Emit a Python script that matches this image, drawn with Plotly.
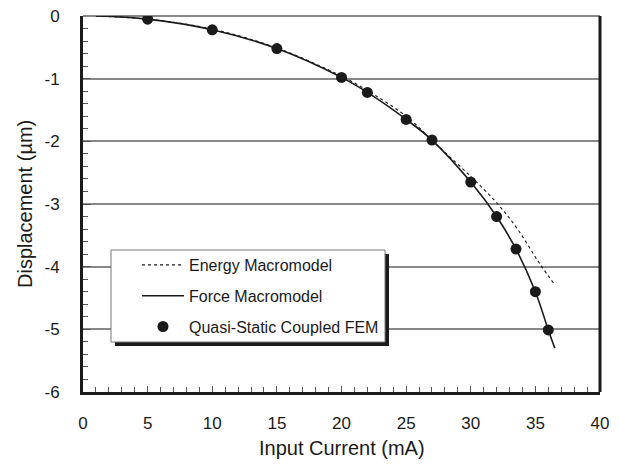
import plotly.graph_objects as go

# Data
fem_x = [5, 10, 15, 20, 22, 25, 27, 30, 32, 33.5, 35, 36]
fem_y = [-0.05, -0.22, -0.52, -0.98, -1.22, -1.65, -1.98, -2.65, -3.20, -3.72, -4.40, -5.01]

force_x = [1, 5, 10, 15, 20, 22, 25, 27, 30, 32, 33.5, 35, 36, 36.5]
force_y = [0.0, -0.05, -0.22, -0.52, -0.98, -1.22, -1.65, -1.98, -2.65, -3.20, -3.72, -4.40, -5.01, -5.30]

energy_x = [1, 5, 10, 15, 20, 22, 25, 27.6, 30, 32, 33.55, 35.36, 36.47]
energy_y = [0.0, -0.05, -0.21, -0.51, -0.96, -1.19, -1.60, -2.10, -2.56, -2.98, -3.38, -3.96, -4.28]

x_ticks = [0, 5, 10, 15, 20, 25, 30, 35, 40]
y_ticks = [0, -1, -2, -3, -4, -5, -6]

FONT = "Liberation Sans, Arial, sans-serif"
INK = "#1a1a1a"

fig = go.Figure()
fig.add_trace(go.Scatter(x=energy_x, y=energy_y, mode="lines", name="Energy Macromodel",
                         line=dict(color=INK, width=1.1, dash="dot", shape="spline"),
                         legendgroup="a"))
fig.add_trace(go.Scatter(x=force_x, y=force_y, mode="lines", name="Force Macromodel",
                         line=dict(color=INK, width=1.6, shape="spline"), legendgroup="b"))
fig.add_trace(go.Scatter(x=fem_x, y=fem_y, mode="markers", name="Quasi-Static Coupled FEM",
                         marker=dict(color=INK, size=11), legendgroup="c"))

OFF = 8  # page body margin
PL, PT, PR, PB = 83, 16, 600, 392  # plot area in page pixels
W, H = 612, 458
L, T = PL - OFF, PT - OFF
pw, ph = PR - PL, PB - PT
R = W - L - pw
B = H - T - ph

def px(xp):
    return (xp - PL) / pw

def py(yp):
    return (PB - yp) / ph

shapes = [
    dict(type="rect", xref="paper", yref="paper", x0=px(115), x1=px(389), y0=py(346), y1=py(254),
         fillcolor=INK, line=dict(width=0), layer="above"),
    dict(type="rect", xref="paper", yref="paper", x0=px(111), x1=px(385), y0=py(342), y1=py(250),
         fillcolor="white", line=dict(color="#777", width=1), layer="above"),
    dict(type="line", xref="paper", yref="paper", x0=1, x1=1, y0=0, y1=1,
         line=dict(color=INK, width=3), layer="above"),
    dict(type="line", xref="paper", yref="paper", x0=0, x1=1, y0=1, y1=1,
         line=dict(color="#888", width=1.8), layer="below"),
]

fig.update_layout(
    width=W, height=H,
    margin=dict(l=L, r=R, t=T, b=B, autoexpand=False),
    paper_bgcolor="white", plot_bgcolor="white",
    font=dict(family=FONT, color=INK, size=17),
    showlegend=True,
    legend=dict(x=px(137), y=py(248), xanchor="left", yanchor="top",
                bgcolor="rgba(0,0,0,0)", borderwidth=0,
                font=dict(size=16, family=FONT, color=INK),
                traceorder="grouped", tracegroupgap=7, itemwidth=42),
    shapes=shapes,
    annotations=[
        dict(text="Input Current (mA)", xref="paper", yref="paper", x=0.5, y=py(448),
             showarrow=False, font=dict(size=20, family=FONT, color=INK), yanchor="middle"),
        dict(text="Displacement (µm)", xref="paper", yref="paper", x=px(25), y=0.5,
             showarrow=False, textangle=-90, font=dict(size=20, family=FONT, color=INK),
             xanchor="center"),
    ],
)

fig.update_xaxes(
    range=[0, 40], tickvals=x_ticks, ticktext=[str(v) for v in x_ticks],
    showgrid=False, zeroline=False, automargin=False,
    showline=True, linecolor=INK, linewidth=3,
    ticks="inside", ticklen=6, tickcolor="#555", tickwidth=1.2,
    ticklabelstandoff=14, ticklabeloverflow="allow",
    minor=dict(dtick=1, ticks="inside", ticklen=5, tickcolor="#555", tickwidth=1.2),
    tickfont=dict(size=17, family=FONT, color=INK),
)
fig.update_yaxes(
    range=[-6, 0], tickvals=y_ticks, ticktext=[str(v) for v in y_ticks],
    showgrid=True, gridcolor="#888", gridwidth=1.8, zeroline=False, automargin=False,
    showline=True, linecolor=INK, linewidth=3,
    ticks="inside", ticklen=8, tickcolor="#555", tickwidth=1.2,
    ticklabelstandoff=17, ticklabeloverflow="allow",
    minor=dict(dtick=0.2, ticks="inside", ticklen=5, tickcolor="#555", tickwidth=1.2, showgrid=False),
    tickfont=dict(size=17, family=FONT, color=INK),
)

fig.write_html("out.html")
